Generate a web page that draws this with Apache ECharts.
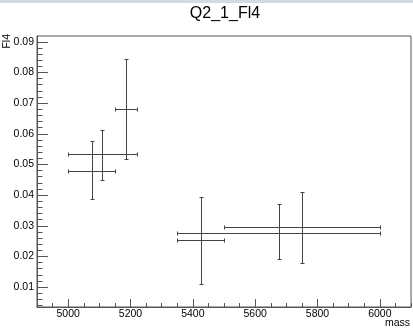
<!DOCTYPE html>
<html><head><meta charset="utf-8">
<script src="https://cdn.jsdelivr.net/npm/echarts@6/dist/echarts.min.js"></script>
<style>html,body{margin:0;padding:0;background:#fff}#c{width:413px;height:330px}</style>
</head><body><div id="c"></div>
<script>
// Data (mass bins with x and y error bars)
const xCenter = [5110, 5185, 5075, 5425, 5675, 5750];
const xLow    = [5000, 5150, 5000, 5350, 5350, 5500];
const xHigh   = [5220, 5220, 5150, 5500, 6000, 6000];
const yValue  = [0.0533, 0.0680, 0.0478, 0.0252, 0.0278, 0.0295];
const yLow    = [0.0450, 0.0517, 0.0386, 0.0109, 0.0190, 0.0179];
const yHigh   = [0.0614, 0.0843, 0.0575, 0.0394, 0.0370, 0.0409];
const xTickLabels = [5000, 5200, 5400, 5600, 5800, 6000];
const yTickLabels = [0.01, 0.02, 0.03, 0.04, 0.05, 0.06, 0.07, 0.08, 0.09];
const titleText = 'Q2_1_Fl4';
const xTitle = 'mass';
const yTitle = 'Fl4';

const xMinor = [];
for (let v = 4900; v <= 6100; v += 50) xMinor.push(v);
const yMinor = [];
for (let k = 2; k <= 45; k++) yMinor.push(+(k * 0.002).toFixed(3));

const rows = xCenter.map((x, i) => [x, yValue[i], xLow[i], xHigh[i], yLow[i], yHigh[i]]);

const font = 'Liberation Sans, Arial, Helvetica, sans-serif';
const axisCol = '#555';
const chart = echarts.init(document.getElementById('c'), null, {renderer: 'canvas'});

chart.setOption({
  animation: false,
  backgroundColor: '#fff',
  grid: {left: 37, top: 36, right: 2, bottom: 23, show: true, borderColor: axisCol, borderWidth: 1, containLabel: false},
  xAxis: [
    {type: 'value', min: 4900, max: 6100, position: 'bottom',
     axisLine: {show: true, lineStyle: {color: axisCol}},
     axisTick: {show: true, inside: true, length: 8, customValues: xTickLabels, lineStyle: {color: axisCol}},
     axisLabel: {show: true, customValues: xTickLabels, margin: 2, fontSize: 10.5, color: '#000', fontFamily: font,
                 formatter: v => String(v)},
     splitLine: {show: false}},
    {type: 'value', min: 4900, max: 6100, position: 'bottom',
     axisLine: {show: false},
     axisTick: {show: true, inside: true, length: 4, customValues: xMinor, lineStyle: {color: axisCol}},
     axisLabel: {show: false},
     splitLine: {show: false}}
  ],
  yAxis: [
    {type: 'value', min: 0.0035, max: 0.0919, position: 'left',
     axisLine: {show: true, lineStyle: {color: axisCol}},
     axisTick: {show: true, inside: true, length: 11, customValues: yTickLabels, lineStyle: {color: axisCol}},
     axisLabel: {show: true, customValues: yTickLabels, margin: 3, fontSize: 10.5, color: '#000', fontFamily: font,
                 formatter: v => v.toFixed(2)},
     splitLine: {show: false}},
    {type: 'value', min: 0.0035, max: 0.0919, position: 'left',
     axisLine: {show: false},
     axisTick: {show: true, inside: true, length: 5.5, customValues: yMinor, lineStyle: {color: axisCol}},
     axisLabel: {show: false},
     splitLine: {show: false}}
  ],
  graphic: [
    {type: 'rect', shape: {x: 0, y: 0, width: 413, height: 3}, style: {fill: '#d3dae6'}, silent: true},
    {type: 'text', x: 225, y: 14, style: {text: titleText, fontSize: 16, fontFamily: font, fill: '#000', textAlign: 'center', textVerticalAlign: 'middle'}},
    {type: 'text', x: 410, y: 323, style: {text: xTitle, fontSize: 10.5, fontFamily: font, fill: '#000', textAlign: 'right', textVerticalAlign: 'middle'}},
    {type: 'text', x: 7, y: 34, rotation: Math.PI / 2, style: {text: yTitle, fontSize: 10.5, fontFamily: font, fill: '#000', textAlign: 'right', textVerticalAlign: 'middle'}}
  ],
  series: [{
    type: 'custom',
    xAxisIndex: 0, yAxisIndex: 0,
    data: rows,
    encode: {x: [0, 2, 3], y: [1, 4, 5]},
    renderItem: function (params, api) {
      const xc = api.value(0), y = api.value(1), xl = api.value(2), xh = api.value(3), yl = api.value(4), yh = api.value(5);
      const pc = api.coord([xc, y]);
      const pl = api.coord([xl, y]);
      const ph = api.coord([xh, y]);
      const pb = api.coord([xc, yl]);
      const pt = api.coord([xc, yh]);
      const r = v => Math.round(v) + 0.5;
      const cx = r(pc[0]), cy = r(pc[1]);
      const x1 = r(pl[0]), x2 = r(ph[0]), y1 = r(pt[1]), y2 = r(pb[1]);
      const c = 2;
      const st = {stroke: '#444', lineWidth: 1, fill: null};
      const L = (a, b, cc, d) => ({type: 'line', shape: {x1: a, y1: b, x2: cc, y2: d}, style: st});
      return {type: 'group', children: [
        L(x1, cy, x2, cy), L(x1, cy - c, x1, cy + c), L(x2, cy - c, x2, cy + c),
        L(cx, y1, cx, y2), L(cx - c, y1, cx + c, y1), L(cx - c, y2, cx + c, y2)
      ]};
    }
  }]
});
</script></body></html>
